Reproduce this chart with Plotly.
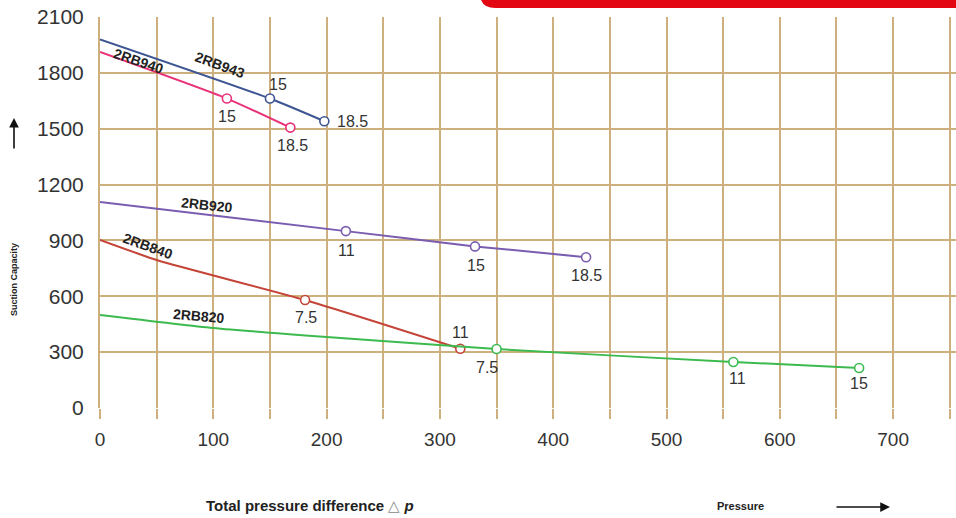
import plotly.graph_objects as go

# ---- data ----
rb943_x = [0, 150, 198]
rb943_y = [1980, 1662, 1540]
rb943_kw = ["", "15", "18.5"]

rb940_x = [0, 112, 168]
rb940_y = [1912, 1662, 1506]
rb940_kw = ["", "15", "18.5"]

rb920_x = [0, 217, 331, 429]
rb920_y = [1106, 950, 868, 810]
rb920_kw = ["", "11", "15", "18.5"]

rb840_x = [0, 50, 181, 318]
rb840_y = [902, 795, 580, 318]
rb840_kw = ["", "", "7.5", "11"]

rb820_x = [0, 100, 200, 350, 559, 670]
rb820_y = [500, 430, 381, 317, 247, 215]
rb820_kw = ["", "", "", "7.5", "11", "15"]

x_ticks = [0, 100, 200, 300, 400, 500, 600, 700]
y_ticks = [0, 300, 600, 900, 1200, 1500, 1800, 2100]

series = [
    ("2RB943", rb943_x, rb943_y, rb943_kw, "#3d5592"),
    ("2RB940", rb940_x, rb940_y, rb940_kw, "#e8337a"),
    ("2RB920", rb920_x, rb920_y, rb920_kw, "#7a5cb0"),
    ("2RB840", rb840_x, rb840_y, rb840_kw, "#c54438"),
    ("2RB820", rb820_x, rb820_y, rb820_kw, "#3cba4e"),
]

# label placement offsets (pixels) for power labels per series/point
label_shift = {
    "2RB943": [None, (8, 14), (28, 0)],
    "2RB940": [None, (0, -18), (2, -18)],
    "2RB920": [None, (1, -19), (1, -19), (0, -18)],
    "2RB840": [None, None, (1, -17), (0, 16)],
    "2RB820": [None, None, None, (-10, -19), (4, -16), (0, -16)],
}

FONT = "Liberation Sans, Arial"
fig = go.Figure()
annotations = []
for name, xs, ys, kws, col in series:
    fig.add_trace(go.Scatter(x=xs, y=ys, mode="lines", line=dict(color=col, width=2, shape="spline", smoothing=0.6),
                             hoverinfo="skip", showlegend=False))
    mx = [x for x, k in zip(xs, kws) if k]
    my = [y for y, k in zip(ys, kws) if k]
    fig.add_trace(go.Scatter(x=mx, y=my, mode="markers",
                             marker=dict(symbol="circle", size=9, color="white", line=dict(color=col, width=1.6)),
                             showlegend=False, name=name))
    for i, (x, y, k) in enumerate(zip(xs, ys, kws)):
        if k:
            dx, dy = label_shift[name][i]
            annotations.append(dict(x=x, y=y, xref="x", yref="y", text=k, showarrow=False,
                                    xshift=dx, yshift=dy, font=dict(size=16, color="#333333", family=FONT)))

# series name labels (rotated along lines)
name_pos = [
    ("2RB943", 106, 1840, 20),
    ("2RB940", 34, 1866, 19),
    ("2RB920", 94, 1088, 6),
    ("2RB840", 42, 868, 20),
    ("2RB820", 87, 494, 5),
]
for t, x, y, a in name_pos:
    annotations.append(dict(x=x, y=y, xref="x", yref="y", text="<b>" + t + "</b>", showarrow=False,
                            textangle=a, font=dict(size=14, color="#222222", family=FONT)))


def px_x(p):
    return (p - 100) / 856


def px_y(p):
    return (408 - p) / 391


# axis titles / decorations
annotations += [
    dict(x=px_x(310), y=px_y(505), xref="paper", yref="paper", showarrow=False,
         xanchor="center", yanchor="middle",
         text="<b>Total pressure difference</b> <span style='color:#888'>△</span> <b><i>p</i></b>",
         font=dict(size=15, color="#222222", family=FONT)),
    dict(x=px_x(740), y=px_y(506), xref="paper", yref="paper", showarrow=False,
         xanchor="center", yanchor="middle",
         text="<b>Pressure</b>", font=dict(size=11, color="#222222", family=FONT)),
    dict(x=px_x(890), y=px_y(507), xref="paper", yref="paper", text="", showarrow=True,
         ax=-55, ay=0, arrowhead=2, arrowsize=1.3, arrowwidth=1.5, arrowcolor="#111111"),
    dict(x=px_x(14), y=px_y(280), xref="paper", yref="paper", showarrow=False,
         xanchor="center", yanchor="middle",
         text="<b>Suction Capacity</b>", textangle=-90,
         font=dict(size=9, color="#222222", family=FONT)),
    dict(x=px_x(14), y=px_y(118), xref="paper", yref="paper", text="", showarrow=True,
         ax=0, ay=32, arrowhead=2, arrowsize=1.2, arrowwidth=1.6, arrowcolor="#111111"),
]

grid = "#cdb07e"
fig.update_layout(
    width=956, height=518,
    margin=dict(l=100, r=0, t=17, b=110),
    paper_bgcolor="white", plot_bgcolor="white",
    showlegend=False,
    annotations=annotations,
    shapes=[dict(type="path", xref="paper", yref="paper", layer="above",
                 path="M 0.444,1.06 L 1.0,1.06 L 1.0,1.023 L 0.462,1.023 Q 0.444,1.023 0.444,1.06 Z",
                 fillcolor="#e30613", line=dict(width=0))],
    xaxis=dict(range=[0, 755.5], tickvals=x_ticks, ticktext=[str(v) for v in x_ticks],
               showgrid=True, gridcolor=grid, gridwidth=1.6, zeroline=False,
               minor=dict(dtick=50, tick0=0, showgrid=True, gridcolor=grid, gridwidth=1.6,
                          ticks="outside", ticklen=10, tickcolor=grid),
               ticks="outside", ticklen=10, tickcolor=grid, tickwidth=1.6,
               ticklabelstandoff=4,
               showline=False,
               tickfont=dict(size=19, color="#333333", family=FONT)),
    yaxis=dict(range=[0, 2100], tickvals=y_ticks, showgrid=True, gridcolor=grid, gridwidth=1.6,
               zeroline=False, showline=True, linecolor=grid, linewidth=2,
               ticks="", ticklabelstandoff=10,
               tickfont=dict(size=21, color="#333333", family=FONT)),
)

fig.write_html("out.html", config={"displayModeBar": False},
               post_script="document.body.style.margin='0';document.body.style.overflow='hidden';")
